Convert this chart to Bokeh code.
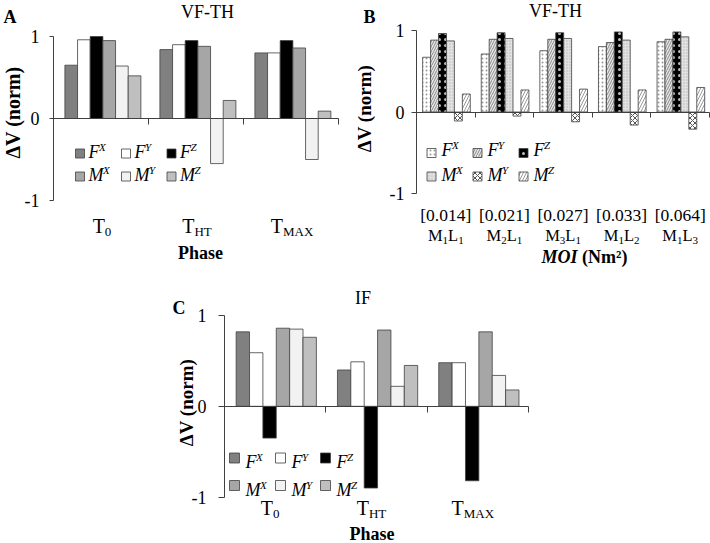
import numpy as np
from bokeh.plotting import figure
from bokeh.models import Range1d, LinearAxis, FixedTicker, Spacer
from bokeh.layouts import row, column
from bokeh.core.properties import value
from bokeh.embed import file_html
from bokeh.resources import INLINE

# ---------------- data ----------------
phase_main = ["T", "T", "T"]
phase_sub = ["0", "HT", "MAX"]
series_main = ["F", "F", "F", "M", "M", "M"]
series_sup = ["X", "Y", "Z", "X", "Y", "Z"]
ytick_values = [-1, 0, 1]
ytick_labels = ["-1", "0", "1"]

# Panel A  (VF-TH, by phase)
a_FX = [0.65, 0.84, 0.80]
a_FY = [0.96, 0.90, 0.80]
a_FZ = [1.00, 0.95, 0.95]
a_MX = [0.95, 0.88, 0.86]
a_MY = [0.64, -0.55, -0.50]
a_MZ = [0.52, 0.22, 0.09]

# Panel B  (VF-TH, by moment of inertia)
moi_values = ["[0.014]", "[0.021]", "[0.027]", "[0.033]", "[0.064]"]
moi_m = ["1", "2", "3", "1", "1"]
moi_l = ["1", "1", "1", "2", "3"]
b_FX = [0.67, 0.71, 0.75, 0.80, 0.86]
b_FY = [0.88, 0.89, 0.89, 0.85, 0.89]
b_FZ = [0.96, 0.97, 0.97, 0.98, 0.98]
b_MX = [0.87, 0.90, 0.90, 0.88, 0.92]
b_MY = [-0.11, -0.05, -0.12, -0.16, -0.21]
b_MZ = [0.22, 0.27, 0.28, 0.27, 0.30]

# Panel C  (IF, by phase)
c_FX = [0.82, 0.40, 0.48]
c_FY = [0.59, 0.49, 0.48]
c_FZ = [-0.35, -0.90, -0.82]
c_MX = [0.86, 0.84, 0.82]
c_MY = [0.85, 0.22, 0.34]
c_MZ = [0.76, 0.45, 0.18]

# ---------------- helpers ----------------
FONT = "Liberation Serif"
AXC = "#404040"
BASE_FIX = 0.3   # renderer puts the alphabetic baseline ~0.3em low

WID = {
    "normal": {"T": .611, "H": .722, "M": .889, "A": .722, "X": .722, "L": .611,
               "[": .333, "]": .333, ".": .25},
    "italic": {"F": .611, "M": .833, "X": .611, "Y": .556, "Z": .556},
    "bold italic": {"M": .889, "O": .722, "I": .389},
    "bold": {" ": .25, "(": .333, "N": .722, "m": .833, "\u00b2": .3, ")": .333},
}


def tw(s, size, style="normal"):
    return sum(WID[style].get(ch, 0.5) for ch in s) * size


class Panel:
    def __init__(self, left, top, width, height, ax_x, cw, zero_y, unit):
        self.ax_x, self.cw, self.zero_y, self.unit = ax_x, cw, zero_y, unit
        x0 = (left - ax_x) / cw
        x1 = (left + width - ax_x) / cw
        y1 = (zero_y - top) / unit
        y0 = (zero_y - (top + height)) / unit
        self.p = figure(width=width, height=height,
                        x_range=Range1d(x0, x1), y_range=Range1d(y0, y1),
                        output_backend="svg", toolbar_location=None,
                        x_axis_location=None, y_axis_location=None,
                        min_border=0, outline_line_color=None)
        self.p.background_fill_color = "white"
        self.p.border_fill_color = "white"
        self.p.xgrid.visible = False
        self.p.ygrid.visible = False

    def X(self, px):
        return (px - self.ax_x) / self.cw

    def Y(self, py):
        return (self.zero_y - py) / self.unit

    def text(self, px, py, s, size, style="normal", align="left",
             baseline="alphabetic", angle=0.0):
        if baseline == "alphabetic":
            py = py - BASE_FIX * size
        self.p.text(x=[self.X(px)], y=[self.Y(py)], text=[s],
                    text_font=value(FONT), text_font_size=f"{size}px",
                    text_font_style=style, text_align=align,
                    text_baseline=baseline, angle=angle, text_color="black")

    def composite(self, cx, base, pieces):
        # pieces: (text, size, style, dy, gap_before)
        total = sum(tw(t, sz, st) + g for t, sz, st, dy, g in pieces)
        x = cx - total / 2
        for t, sz, st, dy, g in pieces:
            x += g
            self.text(x, base + dy, t, sz, st)
            x += tw(t, sz, st)

    def axes(self, ncat, ytick_out, standoff, xtick_out):
        ya = LinearAxis(fixed_location=0, bounds=(-1, 1),
                        ticker=FixedTicker(ticks=ytick_values, minor_ticks=[]),
                        major_label_overrides=dict(zip(ytick_values, ytick_labels)))
        ya.axis_line_color = AXC
        ya.major_tick_line_color = AXC
        ya.major_tick_out = ytick_out
        ya.major_tick_in = 0
        ya.minor_tick_out = 0
        ya.minor_tick_in = 0
        ya.major_label_standoff = standoff
        ya.major_label_text_font = FONT
        ya.major_label_text_font_size = "18px"
        ya.major_label_text_color = "black"
        self.p.add_layout(ya, "left")
        ticks = list(range(1, ncat + 1))
        xa = LinearAxis(fixed_location=0, bounds=(0, ncat),
                        ticker=FixedTicker(ticks=ticks, minor_ticks=[]),
                        major_label_overrides={t: "" for t in ticks})
        xa.axis_line_color = AXC
        xa.major_tick_line_color = AXC
        xa.major_tick_out = xtick_out
        xa.major_tick_in = 0
        xa.minor_tick_out = 0
        xa.minor_tick_in = 0
        self.p.add_layout(xa, "below")

    def bars(self, series, start, bw, styles):
        idx = np.arange(len(series[0]))
        for j, vals in enumerate(series):
            xs = idx + start + (j + 0.5) * bw
            self.p.vbar(x=xs, top=vals, bottom=0, width=bw, **styles[j])

    def legend(self, xs, ys, size, gap, rows_base, styles, main_size=18, sup_size=11):
        for j in range(6):
            r, c = divmod(j, 3)
            cx, cy = xs[c], ys[r]
            self.p.scatter(x=[self.X(cx)], y=[self.Y(cy)], marker="square",
                           size=size, **styles[j])
            lx = cx + size / 2 + gap
            self.text(lx, rows_base[r], series_main[j], main_size, "italic")
            self.text(lx + tw(series_main[j], main_size, "italic") - 0.5,
                      rows_base[r] - 7, series_sup[j], sup_size, "italic")


solid_colors = ["#808080", "#ffffff", "#000000", "#a6a6a6", "#f2f2f2", "#bfbfbf"]
solid = [dict(fill_color=c, line_color=AXC, line_width=0.8) for c in solid_colors]

hatched = [
    dict(fill_color="#ffffff", hatch_pattern="dot", hatch_color="#9a9a9a", hatch_scale=4, hatch_weight=1),
    dict(fill_color="#e6e6e6", hatch_pattern="right_diagonal_line", hatch_color="#8a8a8a", hatch_scale=5, hatch_weight=1),
    dict(fill_color="#000000", hatch_pattern="dot", hatch_color="#bdbdbd", hatch_scale=6, hatch_weight=0.4),
    dict(fill_color="#e2e2e2", hatch_pattern="dot", hatch_color="#b5b5b5", hatch_scale=3, hatch_weight=1),
    dict(fill_color="#ffffff", hatch_pattern="diagonal_cross", hatch_color="#555555", hatch_scale=5, hatch_weight=1),
    dict(fill_color="#ffffff", hatch_pattern="right_diagonal_line", hatch_color="#999999", hatch_scale=6, hatch_weight=1),
]
for h in hatched:
    h.update(line_color=AXC, line_width=0.8)

# ---------------- Panel A ----------------
A = Panel(left=0, top=0, width=352, height=268, ax_x=53, cw=95, zero_y=118, unit=82)
A.bars([a_FX, a_FY, a_FZ, a_MX, a_MY, a_MZ], 0.12, 0.1333, solid)
A.axes(3, 4, 10, 6)
A.text(3, 22, "A", 18, "bold")
A.text(207, 17, "VF-TH", 18, align="center")
A.text(12, 112, "\u0394V (norm)", 20, "bold", align="center", baseline="middle", angle=np.pi / 2)
A.legend([79.5, 125.5, 171], [153, 176], 9, 4, [157, 180], solid)
for i in range(3):
    cx = 53 + 95 * (i + 0.5) + 1
    A.composite(cx, 231, [(phase_main[i], 20, "normal", 0, 0), (phase_sub[i], 13, "normal", 4, 0)])
A.text(200, 258, "Phase", 18, "bold", align="center")

# ---------------- Panel B ----------------
B = Panel(left=352, top=0, width=358, height=268, ax_x=416, cw=58.6, zero_y=111.5, unit=81.7)
B.bars([b_FX, b_FY, b_FZ, b_MX, b_MY, b_MZ], 0.105, 0.1355, hatched)
B.axes(5, 5, 7, 5)
B.text(363, 22, "B", 18, "bold")
B.text(555, 16, "VF-TH", 18, align="center")
B.text(364, 108, "\u0394V (norm)", 19, "bold", align="center", baseline="middle", angle=np.pi / 2)
B.legend([431, 477, 523], [152.5, 176], 9, 5.5, [155, 180], hatched)
for i in range(5):
    cx = 416 + 58.6 * (i + 0.5)
    B.text(cx, 220, moi_values[i], 17.5, align="center")
    B.composite(cx, 240, [("M", 16.5, "normal", 0, 0), (moi_m[i], 11, "normal", 3, 0),
                          ("L", 16.5, "normal", 0, 0), (moi_l[i], 11, "normal", 3, 0)])
B.composite(584, 262, [("MOI", 18, "bold italic", 0, 0), ("(Nm\u00b2)", 18, "bold", 0, 4.5)])

# ---------------- Panel C ----------------
C = Panel(left=150, top=268, width=410, height=275, ax_x=224, cw=101.3, zero_y=405.8, unit=90.8)
C.bars([c_FX, c_FY, c_FZ, c_MX, c_MY, c_MZ], 0.115, 0.132, solid)
C.axes(3, 6, 12, 6)
C.text(172, 313, "C", 18, "bold")
C.text(362.5, 303, "IF", 18, align="center")
C.text(186, 402, "\u0394V (norm)", 19, "bold", align="center", baseline="middle", angle=np.pi / 2)
C.legend([234, 280, 325], [457.5, 485], 10, 6, [466.7, 495], solid)
for i in range(3):
    cx = 224 + 101.3 * (i + 0.5) - 5
    C.composite(cx, 513, [(phase_main[i], 20, "normal", 0, 0), (phase_sub[i], 13, "normal", 4, 0)])
C.text(371.5, 539, "Phase", 18, "bold", align="center")

layout = column(row(A.p, B.p), row(Spacer(width=150, height=275), C.p))

with open("out.html", "w") as f:
    f.write(file_html(layout, INLINE))
